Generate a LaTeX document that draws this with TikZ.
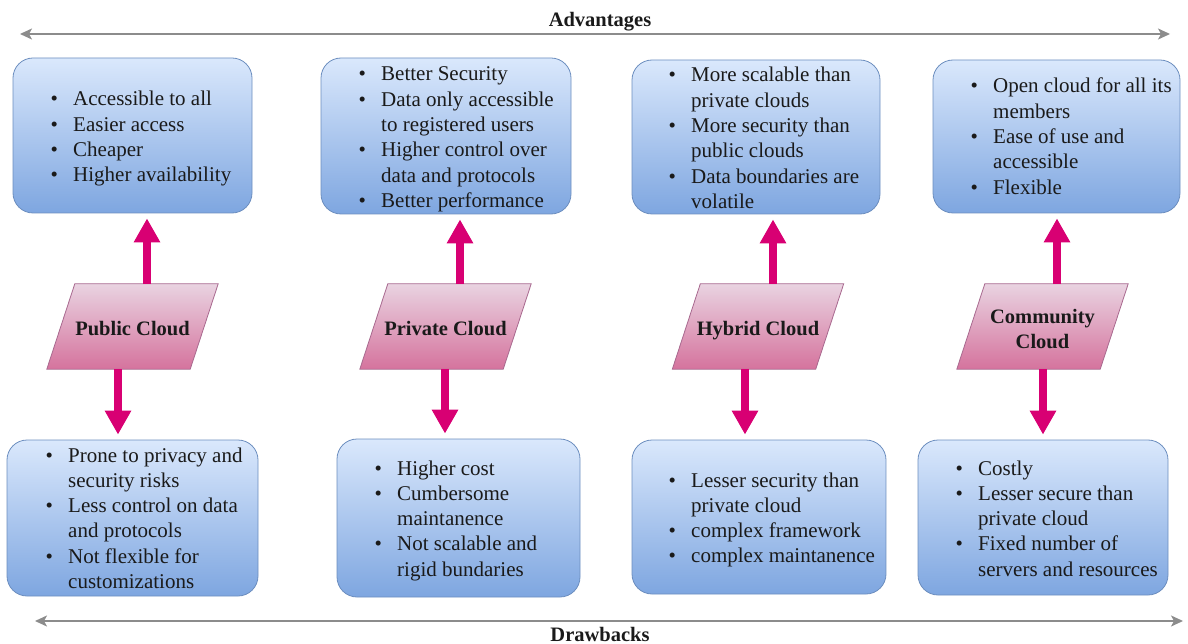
\documentclass[tikz,border=0pt]{standalone}
\usepackage{fontspec}
\setmainfont{Liberation Serif}
\usetikzlibrary{arrows.meta}

\definecolor{boxtop}{HTML}{DAE8FC}
\definecolor{boxbot}{HTML}{7EA6E0}
\definecolor{boxline}{HTML}{6C8EBF}
\definecolor{partop}{HTML}{E9D3E1}
\definecolor{parbot}{HTML}{D5739D}
\definecolor{parline}{HTML}{A8698F}
\definecolor{magarrow}{HTML}{D80073}
\definecolor{axisgray}{HTML}{8C8C8C}
\definecolor{inktext}{HTML}{1A1A1A}

% bullet hanging to the left of the item text
\newcommand\itm{\llap{\textbullet\hspace{15.3pt}}}
% slanted outline of a category node (its frame is the full extent)
\newcommand\slantframe[1]{%
  \path[catfill] ([xshift=28pt]#1.north west) -- (#1.north east)
    -- ([xshift=-28pt]#1.south east) -- (#1.south west) -- cycle;}

\tikzset{
  listbox/.style={draw=boxline, line width=0.8pt, rounded corners=20pt,
    top color=boxtop, bottom color=boxbot, inner sep=0pt},
  listtext/.style={anchor=base west, inner sep=0pt, text=inktext,
    font=\fontsize{21}{25.3}\selectfont},
  catframe/.style={rectangle, minimum width=171pt, minimum height=85pt, inner sep=0pt},
  catfill/.style={draw=parline, line width=0.8pt, top color=partop, bottom color=parbot},
  catlabel/.style={inner sep=0pt, text=inktext, align=center,
    font=\fontsize{20.5}{25}\selectfont\bfseries},
  pointer/.style={draw=magarrow, line width=8pt,
    -{Triangle[length=24pt,width=25pt]}, shorten >=5pt},
  axis/.style={draw=axisgray, line width=1.5pt,
    {Stealth[length=12pt,width=11pt,inset=3pt]}-{Stealth[length=12pt,width=11pt,inset=3pt]}},
  heading/.style={anchor=base, inner sep=0pt, text=inktext,
    font=\fontsize{20.5}{24}\selectfont\bfseries}
}

\begin{document}
\begin{tikzpicture}[x=1pt,y=-1pt]
\useasboundingbox (0,0) rectangle (1188,644);

% axes with their captions
\coordinate (advL) at (20,34);
\coordinate (advR) at (1170,34);
\draw[axis] (advL) -- (advR);
\node[heading] (adv) at (600,27) {Advantages};

\coordinate (drwL) at (35,621);
\coordinate (drwR) at (1183,621);
\draw[axis] (drwL) -- (drwR);
\node[heading] (drw) at (600,641) {Drawbacks};

% advantage boxes
\node[listbox, minimum width=239pt, minimum height=155pt] (tb1) at (132.5,135.5) {};
\node[listbox, minimum width=250pt, minimum height=156pt] (tb2) at (446,136) {};
\node[listbox, minimum width=248pt, minimum height=154pt] (tb3) at (756,137) {};
\node[listbox, minimum width=247pt, minimum height=153pt] (tb4) at (1056.5,136.5) {};

% drawback boxes
\node[listbox, minimum width=251pt, minimum height=156pt] (bb1) at (132.5,518) {};
\node[listbox, minimum width=243pt, minimum height=158pt] (bb2) at (458.5,518) {};
\node[listbox, minimum width=254pt, minimum height=154pt] (bb3) at (759,517) {};
\node[listbox, minimum width=250pt, minimum height=155pt] (bb4) at (1043,517.5) {};

% list contents
\node[listtext] (tx1) at (73,106) {\begin{tabular}[t]{@{}l@{}}
\itm Accessible to all\\ \itm Easier access\\ \itm Cheaper\\ \itm Higher availability
\end{tabular}};
\node[listtext] (tx2) at (381,81) {\begin{tabular}[t]{@{}l@{}}
\itm Better Security\\ \itm Data only accessible\\ to registered users\\
\itm Higher control over\\ data and protocols\\ \itm Better performance
\end{tabular}};
\node[listtext] (tx3) at (691,82) {\begin{tabular}[t]{@{}l@{}}
\itm More scalable than\\ private clouds\\ \itm More security than\\ public clouds\\
\itm Data boundaries are\\ volatile
\end{tabular}};
\node[listtext] (tx4) at (993,93) {\begin{tabular}[t]{@{}l@{}}
\itm Open cloud for all its\\ members\\ \itm Ease of use and\\ accessible\\ \itm Flexible
\end{tabular}};
\node[listtext] (tx5) at (68,462) {\begin{tabular}[t]{@{}l@{}}
\itm Prone to privacy and\\ security risks\\ \itm Less control on data\\ and protocols\\
\itm Not flexible for\\ customizations
\end{tabular}};
\node[listtext] (tx6) at (397,475) {\begin{tabular}[t]{@{}l@{}}
\itm Higher cost\\ \itm Cumbersome\\ maintanence\\ \itm Not scalable and\\ rigid bundaries
\end{tabular}};
\node[listtext] (tx7) at (691,487) {\begin{tabular}[t]{@{}l@{}}
\itm Lesser security than\\ private cloud\\ \itm complex framework\\ \itm complex maintanence
\end{tabular}};
\node[listtext] (tx8) at (978,475) {\begin{tabular}[t]{@{}l@{}}
\itm Costly\\ \itm Lesser secure than\\ private cloud\\ \itm Fixed number of\\ servers and resources
\end{tabular}};

% cloud categories: frame, slanted outline, label
\node[catframe] (pub) at (132.5,326.5) {};
\node[catframe] (priv) at (445.5,326.5) {};
\node[catframe] (hyb) at (758,326.5) {};
\node[catframe] (comm) at (1042.5,326.5) {};
\slantframe{pub}
\slantframe{priv}
\slantframe{hyb}
\slantframe{comm}
\node[catlabel, anchor=base] (pubL) at (132.5,335) {Public Cloud};
\node[catlabel, anchor=base] (privL) at (445.5,335) {Private Cloud};
\node[catlabel, anchor=base] (hybL) at (758,335) {Hybrid Cloud};
\node[catlabel] (commL) at (1042.5,329) {Community\\ Cloud};

% attachment points of the pointers
\coordinate (pubU) at ([xshift=14.5pt]pub.center);
\coordinate (pubD) at ([xshift=-14.5pt]pub.center);
\coordinate (privU) at ([xshift=14.5pt]priv.center);
\coordinate (privD) at ([xshift=-0.5pt]priv.center);
\coordinate (hybU) at ([xshift=15pt]hyb.center);
\coordinate (hybD) at ([xshift=-13pt]hyb.center);
\coordinate (commU) at ([xshift=14.5pt]comm.center);
\coordinate (commD) at ([xshift=0.5pt]comm.center);

% pointers to advantages
\draw[pointer] (pubU |- pub.north) -- (pubU |- tb1.south);
\draw[pointer] (privU |- priv.north) -- (privU |- tb2.south);
\draw[pointer] (hybU |- hyb.north) -- (hybU |- tb3.south);
\draw[pointer] (commU |- comm.north) -- (commU |- tb4.south);

% pointers to drawbacks
\draw[pointer] (pubD |- pub.south) -- (pubD |- bb1.north);
\draw[pointer] (privD |- priv.south) -- (privD |- bb2.north);
\draw[pointer] (hybD |- hyb.south) -- (hybD |- bb3.north);
\draw[pointer] (commD |- comm.south) -- (commD |- bb4.north);
\end{tikzpicture}
\end{document}
